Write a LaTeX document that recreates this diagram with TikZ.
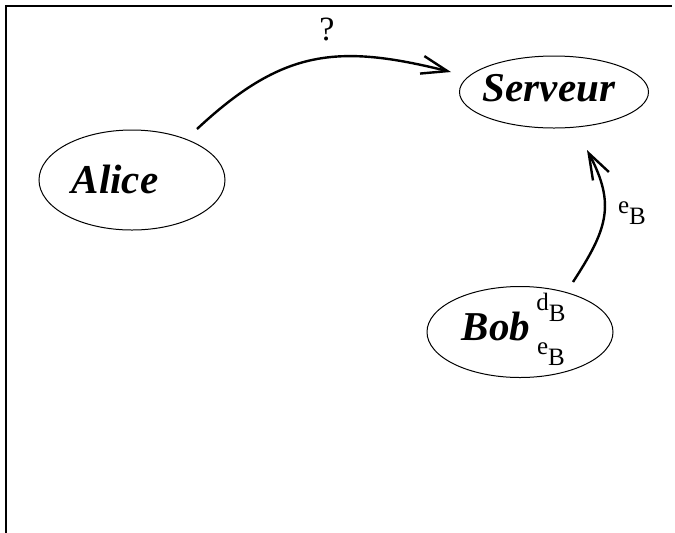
\documentclass[tikz,border=0pt]{standalone}
\usepackage{fontspec}
\setmainfont{Liberation Serif}
\usetikzlibrary{shapes.geometric,% ellipse nodes
arrows.meta}
\newcommand{\lowkey}[2]{#1\raisebox{-5.5pt}{#2}}

\begin{document}
\begin{tikzpicture}[x=0.5pt,y=-0.5pt,
  every node/.style={inner sep=0pt},
  party/.style={shape=ellipse, draw, line width=0.5pt},
  who/.style={font=\fontsize{20.5}{24}\selectfont\bfseries\itshape},
  keylbl/.style={font=\fontsize{12.5}{14}\selectfont},
  msg/.style={-{Straight Barb[length=13pt,width=9pt]}, line width=1.2pt}
% one unit is one pixel of the page
]
\useasboundingbox (0,0) rectangle (675,532);
\draw[line width=1pt] (6,533) |- (672,6);

\path (132,180) node[party, minimum width=93pt, minimum height=50pt] (alice) {};
\path (554,92) node[party, minimum width=94.5pt, minimum height=36pt] (serveur) {};
\path (520,332) node[party, minimum width=93pt, minimum height=45.5pt] (bob) {};

\path (115,179) node[who] (alicetxt) {Alice};
\path (549,88) node[who] (serveurtxt) {Serveur};
\path (496,326) node[who] (bobtxt) {Bob};

\path (551,307) node[keylbl] (bobd) {\lowkey{d}{B}};
\path (551,354) node[keylbl] (bobe) {\lowkey{e}{B}};

\coordinate (from) at (197,129);
\coordinate (to) at (451,72);
\coordinate (bobout) at (573,282);
\coordinate (servin) at (587,150);

\draw[msg, out=43, in=166, looseness=1.15] (from) to (to);
\path (327,29) node[font=\fontsize{17}{20}\selectfont] (ask) {?};
\draw[msg, out=57, in=-62, looseness=1.2] (bobout) to (servin);
\path (632,213) node[keylbl] (sent) {\lowkey{e}{B}};
\end{tikzpicture}
\end{document}
